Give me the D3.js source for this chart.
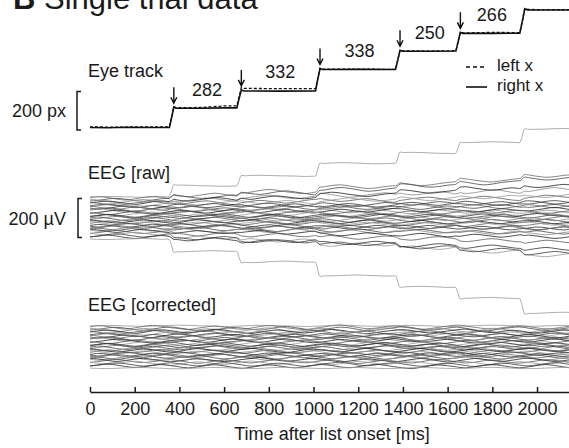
<!DOCTYPE html>
<meta charset="utf-8">
<style>
  body { margin: 0; background: #fff; }
  svg { display: block; font-family: "Liberation Sans", Arial, sans-serif; }
  text { fill: #1a1a1a; }
  .eeg { fill: none; stroke-width: 0.9px; stroke-opacity: 0.9; }
  .eye { fill: none; stroke: #111; }
  .axis path, .axis line { stroke: #1a1a1a; stroke-width: 1.5px; }
  .axis text { font-size: 18px; font-family: "Liberation Sans", Arial, sans-serif; fill: #1a1a1a; }
</style>

<body>
  <script src="https://cdn.jsdelivr.net/npm/d3@7"></script>
  <script>

    var width = 569, height = 448;

    // eye track samples [ms, screen px]
    var rightEye = [[0,150],[80,149],[160,151],[250,150],[355,150],[366,205],[375,256],[385,250],[500,250],[600,252],[657,252],
      [667,300],[677,345],[690,340],[850,339],[1009,340],[1019,400],[1029,456],[1040,451],[1200,452],[1367,451],
      [1377,500],[1387,551],[1398,546],[1520,546],[1637,547],[1647,595],[1657,644],[1668,639],[1800,639],[1923,640],
      [1934,700],[1945,766],[1958,761],[2143,760]];
    var leftEye = [[0,153],[120,152],[250,153],[355,153],[366,207],[375,258],[385,253],[500,254],[600,262],[657,262],
      [667,310],[677,358],[690,353],[850,352],[1009,352],[1019,405],[1029,458],[1040,453],[1200,453],[1367,452],
      [1377,502],[1387,553],[1398,548],[1520,547],[1637,549],[1647,597],[1657,646],[1668,641],[1800,644],[1923,643],
      [1934,702],[1945,768],[1958,763],[2143,762]];

    // fixation onsets / ends and labelled durations
    var fixOnset = [375, 677, 1029, 1387, 1657];
    var fixEnd = [657, 1009, 1367, 1637, 1923];
    var fixLevel = [250, 340, 451, 546, 639];
    var fixDuration = [282, 332, 338, 250, 266];

    var xTicks = [0, 200, 400, 600, 800, 1000, 1200, 1400, 1600, 1800, 2000];

    // EEG: one sample every 40 ms, in µV
    var sampleMs = 40;
    var chanOffset = [108, 100, 93, 86, 80, 73, 67, 61, 55, 49, 43, 37, 31, 25, 19, 13, 7, 1, -5, -11,
      -17, -23, -29, -35, -41, -47, -53, -60, -67, -74, -82, -90, -99, -108];
    // ocular artifact gain, µV per px of horizontal eye position
    var chanEyeGain = [0.57, 0.19, 0.18, 0.1, 0.14, 0.06, 0.08, 0.03, 0.04, 0.02, 0.03, -0.01, 0.02, 0.01, 0, -0.01, 0.01, 0, -0.02, 0.01,
      -0.01, -0.02, 0, -0.03, -0.02, -0.01, -0.04, -0.03, -0.05, -0.08, -0.18, -0.15, -0.1, -0.62];
    var chanNoise = [
      [0,2,3,2,0,-1,-2,-1,1,3,4,3,1,0,-2,-3,-2,0,2,3,2,1,0,-1,-3,-2,0,2,4,3,1,-1,-2,-1,1,2,3,2,0,-2,-3,-2,0,1,3,4,3,1,-1,-2,-1,0,2,3,2,0],
      [4,9,5,-3,-8,-2,6,11,7,-1,-6,-10,-4,3,8,2,-5,-9,-3,5,10,6,-2,-7,-11,-5,2,9,13,7,0,-6,-3,4,8,3,-4,-9,-6,1,7,12,8,1,-5,-8,-2,4,9,5,-2,-7,-4,3,6,2],
      [-6,-2,5,8,3,-4,-7,-1,6,10,4,-3,-9,-12,-5,2,7,4,-2,-6,0,8,12,6,-1,-8,-5,3,9,5,-3,-10,-7,0,6,11,7,-2,-6,-3,4,9,3,-5,-11,-7,1,6,10,4,-3,-8,-5,2,7,5],
      [10,6,-1,-7,-3,4,9,5,-2,-8,-13,-6,1,7,3,-4,-9,-5,2,8,12,5,-2,-6,-1,6,10,4,-4,-10,-6,2,8,13,7,-1,-7,-4,3,9,5,-3,-9,-5,3,10,6,-2,-8,-12,-4,4,9,3,-3,-7],
      [-3,3,7,2,-5,-10,-5,3,8,4,-3,-7,-2,5,11,7,0,-6,-11,-4,3,7,2,-4,-8,-3,4,10,6,-1,-7,-12,-6,1,5,9,4,-3,-8,-4,2,8,12,5,-2,-6,-1,6,3,-4,-9,-5,2,7,4,-2],
      [7,2,-5,-9,-3,4,8,12,6,-2,-7,-3,5,9,3,-5,-10,-6,1,6,2,-3,-8,-2,5,11,7,-1,-6,-2,4,8,2,-6,-11,-5,2,7,10,4,-3,-8,-4,3,9,5,-2,-9,-13,-6,1,7,4,-2,-5,1],
      [-9,-4,2,8,4,-1,-6,-2,5,10,5,-3,-9,-5,2,6,11,6,-2,-8,-3,3,8,3,-4,-10,-6,1,7,12,6,-1,-5,-1,5,9,3,-5,-10,-4,3,8,4,-2,-7,-3,4,10,6,-1,-7,-11,-5,2,8,5],
      [2,7,11,5,-2,-8,-4,3,-1,-6,-12,-7,0,6,10,4,-3,-7,-2,5,9,4,-4,-9,-5,2,8,4,-2,-7,-11,-4,3,9,6,-1,-6,-2,5,11,7,0,-5,-9,-3,4,8,3,-4,-8,-2,6,10,5,-1,-6],
      [-4,-9,-5,2,7,3,-3,-7,1,8,12,6,-1,-6,-2,4,9,5,-3,-10,-6,1,6,10,4,-3,-8,-4,3,7,2,-5,-11,-7,-1,5,9,5,-2,-6,0,6,11,7,-1,-7,-10,-3,4,9,5,-2,-8,-4,3,7],
      [12,6,-1,-5,1,7,3,-4,-9,-4,3,9,5,-2,-8,-12,-5,2,7,3,-3,-8,-3,4,10,6,-1,-6,-1,5,9,4,-3,-9,-5,2,8,12,5,-2,-7,-3,4,9,3,-5,-10,-5,2,7,3,-4,-9,-3,5,8],
      [-2,4,9,4,-3,-8,-3,5,10,5,-2,-9,-13,-6,1,6,2,-5,-9,-4,3,8,12,7,-1,-6,-2,5,9,3,-4,-8,-3,4,8,2,-6,-11,-5,2,7,3,-4,-8,-2,6,11,6,-2,-7,-3,4,8,2,-5,-9],
      [6,11,5,-2,-7,-3,3,8,4,-3,-8,-4,2,7,2,-6,-12,-6,1,7,11,5,-2,-6,-2,4,10,6,-1,-8,-4,3,9,4,-2,-7,-11,-5,2,8,4,-2,-7,-3,5,10,4,-3,-8,-4,3,9,6,-1,-6,-2],
      [-7,-2,4,9,5,-1,-6,-11,-5,2,6,2,-4,-8,-2,5,9,4,-3,-7,-1,6,10,3,-4,-9,-5,2,8,4,-3,-7,-1,6,12,7,0,-6,-2,4,8,2,-5,-10,-6,1,7,3,-3,-7,-1,6,11,5,-2,-5],
      [3,-3,-8,-3,4,10,6,-1,-6,-2,5,9,3,-5,-9,-4,3,8,4,-3,-10,-5,2,7,11,5,-2,-7,-3,4,8,2,-5,-10,-4,3,7,2,-4,-9,-5,2,9,5,-1,-6,-1,6,10,4,-3,-9,-4,3,7,2],
      [9,4,-2,-8,-4,3,7,11,5,-3,-9,-5,1,6,2,-5,-10,-4,3,8,4,-2,-7,-2,6,11,5,-1,-6,-10,-3,4,8,3,-3,-8,-2,5,9,3,-4,-9,-4,3,8,12,6,-2,-6,-2,4,8,2,-5,-9,-3],
      [-5,1,6,2,-4,-9,-4,4,9,13,6,-1,-5,-1,5,9,3,-4,-9,-3,4,8,2,-5,-10,-6,1,6,2,-4,-8,-2,5,10,5,-2,-8,-4,2,7,3,-5,-11,-6,1,5,10,5,-2,-7,-3,5,9,4,-2,-6],
      [1,6,10,4,-3,-7,-2,5,2,-4,-10,-5,3,8,4,-2,-7,-12,-5,2,7,3,-3,-8,-3,4,9,5,-2,-6,-1,6,11,6,-1,-7,-3,4,8,2,-5,-9,-3,4,9,4,-3,-7,-2,5,10,5,-1,-6,-10,-4],
      [-8,-3,3,7,2,-4,-8,-3,4,10,6,-1,-6,-2,5,11,6,-2,-8,-4,3,8,3,-5,-9,-4,2,7,12,6,-1,-5,-1,6,9,3,-4,-10,-5,2,6,2,-4,-8,-2,5,9,4,-3,-8,-12,-5,2,7,3,-2],
      [5,10,4,-3,-8,-3,4,8,3,-4,-9,-4,2,6,11,5,-2,-7,-3,4,9,4,-3,-8,-4,3,7,2,-5,-11,-6,1,6,11,6,-1,-5,-1,5,8,2,-5,-10,-5,3,7,3,-3,-8,-3,5,10,6,-1,-6,-2],
      [-1,-7,-11,-5,2,7,3,-3,-8,-2,5,9,4,-2,-7,-3,4,9,13,6,-1,-6,-2,4,8,2,-5,-9,-4,3,8,3,-3,-8,-4,2,7,11,5,-2,-6,-1,6,10,4,-3,-8,-4,3,8,3,-4,-9,-4,2,6],
      [8,3,-3,-9,-4,2,7,3,-4,-9,-5,3,9,5,-2,-6,-1,5,10,5,-2,-8,-12,-5,2,6,2,-4,-8,-3,5,10,5,-2,-7,-3,4,9,3,-4,-9,-5,2,7,3,-3,-7,-1,6,11,6,-1,-6,-2,4,8],
      [-4,2,8,4,-2,-6,-1,6,11,5,-2,-8,-3,3,7,2,-5,-10,-5,2,8,4,-3,-7,-2,5,9,4,-3,-9,-5,1,7,3,-4,-8,-3,4,10,6,-1,-6,-11,-5,2,7,3,-3,-7,-2,5,9,4,-3,-8,-4],
      [11,5,-1,-6,-2,4,9,4,-3,-8,-4,3,8,3,-4,-10,-5,2,7,12,6,-1,-5,-1,5,9,3,-4,-9,-4,3,7,2,-5,-10,-6,1,6,2,-4,-8,-2,5,10,5,-2,-7,-2,4,9,3,-4,-8,-3,3,7],
      [-6,-11,-5,2,7,3,-3,-8,-3,4,9,5,-2,-7,-2,5,10,4,-3,-8,-4,2,7,3,-4,-9,-13,-6,1,6,2,-4,-8,-3,4,9,5,-2,-7,-3,4,9,4,-3,-8,-3,4,10,6,-1,-7,-3,3,8,4,-2],
      [3,8,4,-2,-7,-3,4,9,5,-2,-8,-12,-5,2,7,3,-3,-8,-2,5,10,5,-2,-7,-2,4,8,3,-4,-9,-4,3,9,5,-2,-6,-1,6,11,5,-2,-7,-3,4,8,2,-5,-10,-5,2,7,3,-4,-8,-2,5],
      [-9,-4,3,8,4,-3,-7,-2,5,10,5,-1,-6,-2,5,9,3,-4,-9,-5,2,7,3,-3,-8,-3,4,10,6,-1,-6,-10,-4,3,7,2,-5,-9,-3,4,9,13,6,-1,-5,-1,5,8,2,-5,-9,-4,3,8,4,-2],
      [6,1,-5,-10,-5,2,8,4,-2,-6,-1,5,10,5,-3,-8,-4,3,7,2,-4,-9,-3,5,10,5,-1,-7,-3,4,8,3,-4,-10,-5,2,6,11,5,-2,-7,-3,3,8,3,-4,-9,-4,2,7,12,6,-1,-5,-1,5],
      [-2,-8,-4,3,9,4,-3,-7,-1,6,11,6,-1,-6,-11,-5,2,7,3,-3,-8,-3,4,9,4,-3,-8,-3,4,8,3,-5,-10,-5,2,7,12,6,-1,-6,-2,4,9,4,-3,-9,-4,3,8,3,-3,-8,-3,4,9,5],
      [10,5,-2,-7,-2,5,9,3,-4,-9,-4,2,7,3,-3,-8,-4,3,8,13,6,-1,-6,-2,4,9,4,-3,-9,-5,1,6,2,-4,-9,-4,3,8,3,-4,-10,-5,2,8,4,-2,-7,-2,5,10,5,-2,-7,-3,4,9],
      [-5,0,6,11,5,-2,-6,-1,5,9,3,-4,-10,-5,2,7,3,-3,-8,-2,5,9,4,-3,-7,-2,4,8,3,-5,-11,-6,1,6,2,-4,-8,-2,6,10,5,-2,-8,-4,3,7,2,-5,-9,-4,3,9,5,-1,-6,-2],
      [4,-2,-7,-3,4,9,4,-3,-8,-13,-6,1,6,2,-4,-8,-2,5,10,5,-2,-7,-3,4,8,3,-4,-9,-4,3,8,4,-2,-7,-2,5,10,4,-3,-8,-3,4,8,2,-5,-10,-5,2,7,3,-3,-7,-1,6,11,5],
      [-7,-2,5,9,4,-3,-8,-3,4,9,4,-2,-7,-2,5,10,5,-2,-8,-4,2,7,3,-4,-9,-4,3,8,12,5,-2,-6,-1,5,9,3,-4,-9,-4,3,7,2,-5,-10,-5,2,8,4,-3,-7,-2,5,10,5,-2,-7],
      [2,7,12,6,-1,-6,-2,4,9,4,-3,-8,-3,4,8,2,-5,-10,-5,2,7,3,-4,-8,-2,5,9,4,-3,-7,-2,5,10,5,-2,-8,-12,-5,2,7,3,-3,-8,-2,5,9,4,-3,-8,-3,4,9,4,-3,-7,-1],
      [0,-2,-3,-1,1,2,3,1,-1,-3,-4,-2,0,2,3,2,0,-2,-3,-2,1,3,4,2,0,-1,-3,-2,0,2,3,1,-1,-3,-2,0,2,3,2,0,-2,-3,-1,1,3,4,2,0,-2,-3,-2,0,2,3,1,-1]
    ];

    var grays = ["#333", "#6a6a6a", "#4a4a4a", "#8a8a8a", "#222", "#5a5a5a", "#9a9a9a", "#404040"];

    var x = d3.scaleLinear().domain([0, 2143]).range([90, 569]);
    var eyeY = d3.scaleLinear().domain([150, 350]).range([127.5, 89]);
    var rawY = d3.scaleLinear().domain([-100, 100]).range([237.5, 198.5]);
    var corY = d3.scaleLinear().domain([-100, 100]).range([366.5, 327.5]);

    var svg = d3.select("body").append("svg")
      .attr("width", width)
      .attr("height", height);

    svg.append("rect").attr("width", width).attr("height", height).attr("fill", "#fff");

    // title
    var title = svg.append("text").attr("x", 13).attr("y", 9).style("font-size", "31px");
    title.append("tspan").style("font-weight", "bold").text("B");
    title.append("tspan").text(" Single trial data");

    // ---- EEG ----
    var eyeAt = d3.scaleLinear().domain(rightEye.map(function (d) { return d[0]; }))
      .range(rightEye.map(function (d) { return d[1]; })).clamp(true);
    var eye0 = rightEye[0][1];

    var eegLine = function (yScale) {
      return d3.line()
        .x(function (d) { return x(d[0]); })
        .y(function (d) { return yScale(d[1]); })
        .curve(d3.curveCatmullRom.alpha(0.5));
    };

    var channels = chanNoise.map(function (vals, i) {
      var times = vals.map(function (v, j) { return j * sampleMs; });
      var noiseAt = d3.scaleLinear().domain(times).range(vals);
      var eyeTimes = rightEye.map(function (d) { return d[0]; });
      var all = Array.from(new Set(times.concat(eyeTimes))).sort(d3.ascending);
      return {
        i: i,
        corrected: times.map(function (t, j) { return [t, chanOffset[i] + vals[j]]; }),
        raw: all.map(function (t) { return [t, chanOffset[i] + noiseAt(t) + chanEyeGain[i] * (eyeAt(t) - eye0)]; })
      };
    });

    function gray(d) {
      if (d.i === 0 || d.i === chanNoise.length - 1) return "#999";
      return grays[d.i % grays.length];
    }

    svg.append("g").selectAll("path")
      .data(channels)
      .enter().append("path")
      .attr("class", "eeg")
      .attr("stroke", gray)
      .attr("d", function (d) { return eegLine(rawY)(d.raw); });

    svg.append("g").selectAll("path")
      .data(channels)
      .enter().append("path")
      .attr("class", "eeg")
      .attr("stroke", gray)
      .attr("d", function (d) { return eegLine(corY)(d.corrected); });

    // ---- eye track ----
    var eyeLine = d3.line()
      .x(function (d) { return x(d[0]); })
      .y(function (d) { return eyeY(d[1]); });

    svg.append("path").datum(rightEye).attr("class", "eye")
      .attr("stroke-width", 1.6).attr("d", eyeLine);
    svg.append("path").datum(leftEye).attr("class", "eye")
      .attr("stroke-width", 1.3).attr("stroke-dasharray", "3,2").attr("d", eyeLine);

    // fixation arrows
    var arrows = svg.append("g").attr("stroke", "#111").attr("stroke-width", 1.4).attr("fill", "none");
    fixOnset.forEach(function (t, i) {
      var ax = x(t), bottom = eyeY(fixLevel[i]) - 5;
      arrows.append("path")
        .attr("d", "M" + ax + "," + (bottom - 16) + "V" + bottom +
          "M" + (ax - 3) + "," + (bottom - 6) + "L" + ax + "," + bottom + "L" + (ax + 3) + "," + (bottom - 6));
    });

    svg.append("g").selectAll("text")
      .data(fixDuration)
      .enter().append("text")
      .attr("x", function (d, i) { return x((fixOnset[i] + fixEnd[i]) / 2 + 8); })
      .attr("y", function (d, i) { return eyeY(fixLevel[i]) - 12.5; })
      .attr("text-anchor", "middle")
      .style("font-size", "18px")
      .text(function (d) { return d; });

    // legend
    var legend = svg.append("g").style("font-size", "17px");
    legend.append("line").attr("x1", 466).attr("x2", 487).attr("y1", 67).attr("y2", 67)
      .attr("stroke", "#111").attr("stroke-width", 1.4).attr("stroke-dasharray", "4,3");
    legend.append("text").attr("x", 497).attr("y", 70.7).text("left x");
    legend.append("line").attr("x1", 466).attr("x2", 487).attr("y1", 87).attr("y2", 87)
      .attr("stroke", "#111").attr("stroke-width", 1.6);
    legend.append("text").attr("x", 497).attr("y", 90.7).text("right x");

    // panel labels and scale bars
    function bracket(bx, y1, y2) {
      svg.append("path")
        .attr("d", "M" + (bx + 4) + "," + y1 + "H" + bx + "V" + y2 + "H" + (bx + 4))
        .attr("fill", "none").attr("stroke", "#1a1a1a").attr("stroke-width", 1.5);
    }
    bracket(77, eyeY(337), eyeY(137));
    bracket(78, rawY(100), rawY(-100));

    var labels = svg.append("g").style("font-size", "18px");
    labels.append("text").attr("x", 88).attr("y", 77).text("Eye track");
    labels.append("text").attr("x", 88).attr("y", 178.5).text("EEG [raw]");
    labels.append("text").attr("x", 88).attr("y", 311).text("EEG [corrected]");
    labels.append("text").attr("x", 66).attr("y", (eyeY(337) + eyeY(137)) / 2 + 6.5)
      .attr("text-anchor", "end").text("200 px");
    labels.append("text").attr("x", 66).attr("y", (rawY(100) + rawY(-100)) / 2 + 6.5)
      .attr("text-anchor", "end").text("200 µV");

    // x axis
    svg.append("g")
      .attr("class", "axis")
      .attr("transform", "translate(0,392)")
      .call(d3.axisBottom(x).tickValues(xTicks).tickFormat(d3.format("d"))
        .tickSize(-5).tickSizeOuter(0).tickPadding(10));

    svg.append("text")
      .attr("x", 332).attr("y", 440)
      .attr("text-anchor", "middle")
      .style("font-size", "18px")
      .text("Time after list onset [ms]");

  </script>

</body>

</html>
